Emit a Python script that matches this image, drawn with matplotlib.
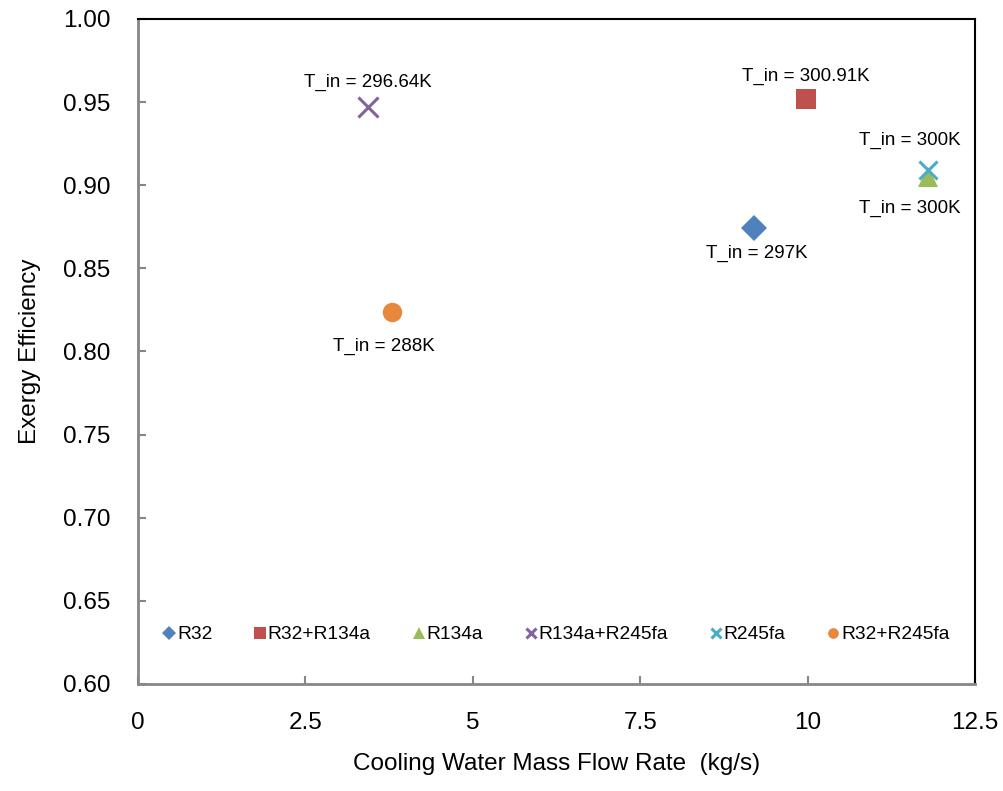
import matplotlib.pyplot as plt
from matplotlib.ticker import FormatStrFormatter

plt.rcParams['font.family'] = ['Liberation Sans', 'DejaVu Sans']

# data
series = ['R32', 'R32+R134a', 'R134a', 'R134a+R245fa', 'R245fa', 'R32+R245fa']
flow = [9.20, 9.98, 11.80, 3.43, 11.80, 3.79]
eff = [0.874, 0.952, 0.905, 0.947, 0.909, 0.824]
t_in = ['T_in = 297K', 'T_in = 300.91K', 'T_in = 300K', 'T_in = 296.64K', 'T_in = 300K', 'T_in = 288K']
# label offsets (points) from each marker
label_dx = [2, 0, -13, 0, -13, -6]
label_dy = [-18, 16, -22.5, 18, 21.5, -25]

colors = ['#4F81BD', '#C0504D', '#9BBB59', '#8064A2', '#4BACC6', '#E8883C']
markers = ['D', 's', '^', 'x', 'x', 'o']
sizes = [13, 15, 15, 14, 13, 14]

fig = plt.figure(figsize=(10.04, 7.91), dpi=100)
ax = fig.add_axes([0.1375, 0.1353, 0.8335, 0.8407])

for i in range(len(series)):
    ax.plot(flow[i], eff[i], linestyle='none', marker=markers[i], color=colors[i],
            markersize=sizes[i], markeredgewidth=2.2 if markers[i] == 'x' else 0,
            label=series[i], zorder=3)
    ax.annotate(t_in[i], (flow[i], eff[i]), xytext=(label_dx[i], label_dy[i]),
                textcoords='offset points', ha='center', va='center', fontsize=13.5)

ax.set_xlim(0, 12.5)
ax.set_ylim(0.60, 1.00)
ax.set_xticks([0, 2.5, 5, 7.5, 10, 12.5])
ax.set_xticklabels(['0', '2.5', '5', '7.5', '10', '12.5'])
ax.set_yticks([0.60, 0.65, 0.70, 0.75, 0.80, 0.85, 0.90, 0.95, 1.00])
ax.yaxis.set_major_formatter(FormatStrFormatter('%.2f'))
ax.tick_params(direction='in', length=6, width=1.5, color='#868686', labelsize=17.5)
ax.tick_params(axis='x', pad=20)
ax.tick_params(axis='y', pad=20)

for s in ['left', 'bottom']:
    ax.spines[s].set_color('#868686')
    ax.spines[s].set_linewidth(2)
for s in ['top', 'right']:
    ax.spines[s].set_color('black')
    ax.spines[s].set_linewidth(1.5)

ax.set_xlabel('Cooling Water Mass Flow Rate  (kg/s)', fontsize=17.5, labelpad=14)
ax.set_ylabel('Exergy Efficiency', fontsize=17.5, labelpad=16)

ax.legend(loc='center', bbox_to_anchor=(0.5, 0.074), ncol=6, frameon=False,
          markerscale=0.55, fontsize=13.8, handlelength=0.6, handletextpad=0.1,
          columnspacing=2.2)

plt.savefig('out.png', dpi=100)
